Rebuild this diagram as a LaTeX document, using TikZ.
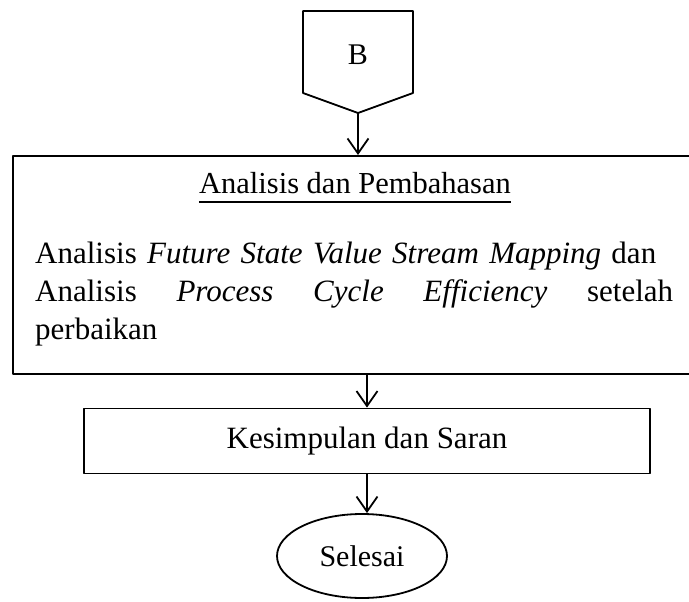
\documentclass[tikz,border=0pt]{standalone}
\usepackage{fontspec}
\setmainfont{Liberation Serif}
\usetikzlibrary{arrows.meta,shapes.geometric}

\tikzset{
  line/.style={line width=1.8pt, line join=round},
  flow/.style={line, -{Straight Barb[length=15pt, width=21pt, line width=1.8pt]}},
  panel/.style={line, draw, rectangle, inner sep=0pt},
  big/.style={font=\fontsize{31}{38}\selectfont},
  txt/.style={inner sep=0pt, big}
}

\begin{document}
\begin{tikzpicture}[x=1pt, y=-1pt]
\useasboundingbox (0,0) rectangle (689,602);

% off-page connector B
\draw[line] (303,11) -- (413,11) -- (413,93) -- (358,113) -- (303,93) -- cycle;
\coordinate (Btip) at (358,113);
\node[txt, font=\fontsize{30}{36}\selectfont] (B) at (358,55) {B};

% analysis panel (runs past the right edge)
\node[panel, anchor=north west, minimum width=700pt, minimum height=218pt] (box) at (12,155) {};
\node[txt, font=\fontsize{30.5}{36}\selectfont] (title) at (355,183) {Analisis dan Pembahasan};
\draw[line] ([yshift=-8pt]title.south west) -- ([yshift=-8pt]title.south east);
\node[txt, anchor=west, text width=638pt, align=left] (body) at (35,294)
  {Analisis \textit{Future State Value Stream Mapping} dan\\
   Analisis\hfill\textit{Process}\hfill\textit{Cycle}\hfill\textit{Efficiency}\hfill setelah\\
   perbaikan};

% conclusion box
\node[panel, big, minimum width=566pt, minimum height=65pt] (kes) at (367,441)
  {Kesimpulan dan Saran};

% terminator
\node[line, draw, ellipse, minimum width=170pt, minimum height=84pt, inner sep=0pt,
      font=\fontsize{30}{36}\selectfont] (sel) at (362,556) {Selesai};

% connectors
\draw[flow] (Btip) -- (Btip |- box.north);
\draw[flow] (box.south -| kes.north) -- (kes.north);
\draw[flow] (kes.south) -- (kes.south |- sel.north);
\end{tikzpicture}
\end{document}
